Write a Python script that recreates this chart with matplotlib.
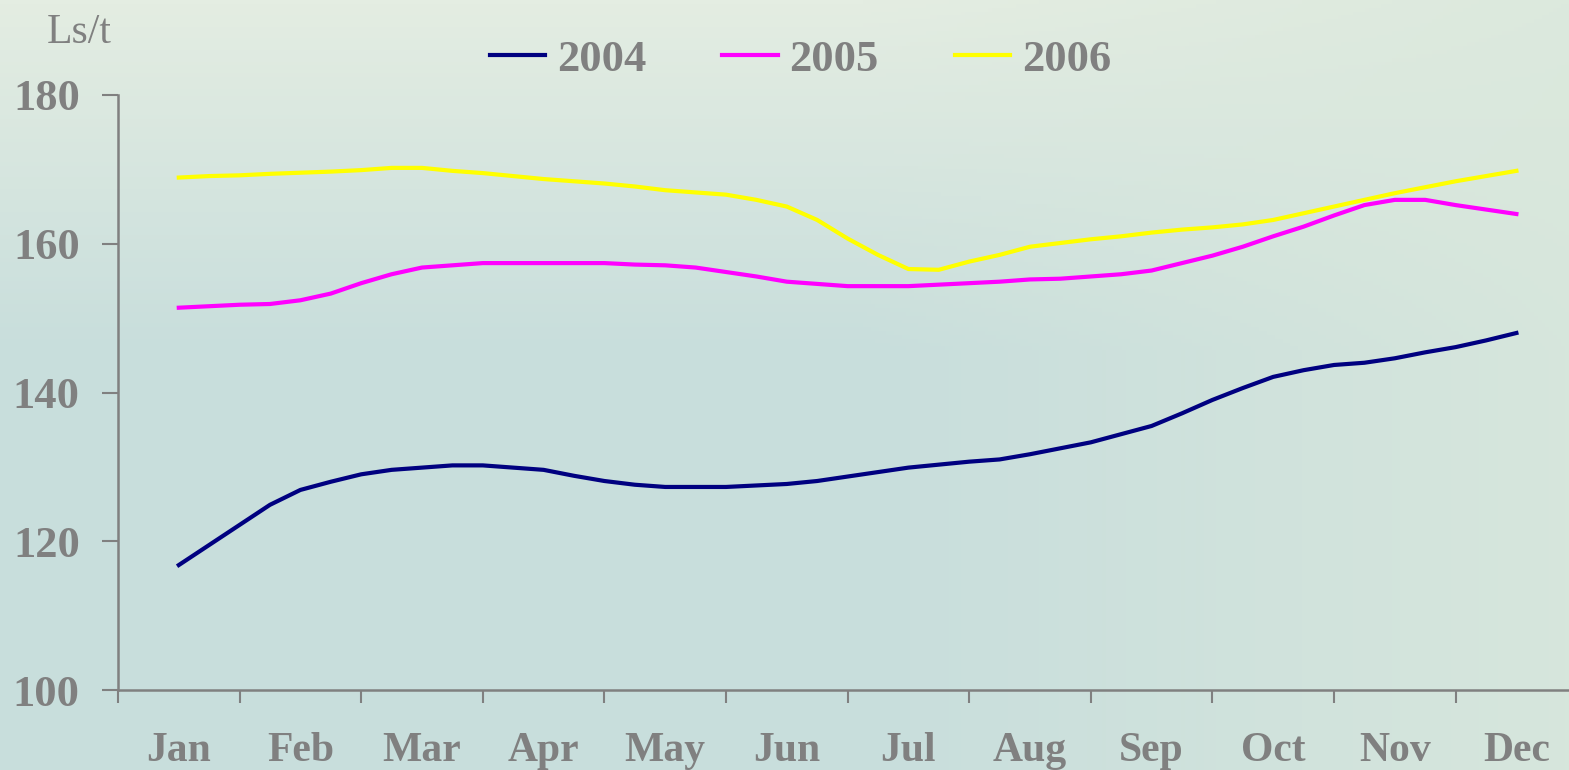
import numpy as np
import matplotlib
matplotlib.use('Agg')
import matplotlib.pyplot as plt

months = ['Jan', 'Feb', 'Mar', 'Apr', 'May', 'Jun',
          'Jul', 'Aug', 'Sep', 'Oct', 'Nov', 'Dec']

# weekly readings (4 per month, Jan to Dec)
price_2004 = [116.8, 119.5, 122.2, 124.9, 126.9, 128.0, 129.0, 129.6, 129.9,
              130.2, 130.2, 129.9, 129.6, 128.8, 128.1, 127.6, 127.3, 127.3,
              127.3, 127.5, 127.7, 128.1, 128.7, 129.3, 129.9, 130.3, 130.7,
              131.0, 131.7, 132.5, 133.3, 134.4, 135.5, 137.2, 139.0, 140.6,
              142.1, 143.0, 143.7, 144.0, 144.6, 145.4, 146.1, 147.0, 148.0]
price_2005 = [151.4, 151.6, 151.8, 151.9, 152.4, 153.3, 154.7, 155.9, 156.8,
              157.1, 157.4, 157.4, 157.4, 157.4, 157.4, 157.2, 157.1, 156.8,
              156.2, 155.6, 154.9, 154.6, 154.3, 154.3, 154.3, 154.5, 154.7,
              154.9, 155.2, 155.3, 155.6, 155.9, 156.4, 157.4, 158.4, 159.6,
              161.0, 162.3, 163.8, 165.2, 165.9, 165.9, 165.2, 164.6, 164.0]
price_2006 = [168.9, 169.1, 169.2, 169.4, 169.55, 169.7, 169.9, 170.2, 170.2,
              169.8, 169.5, 169.1, 168.7, 168.4, 168.1, 167.7, 167.2, 166.9,
              166.6, 165.9, 165.0, 163.2, 160.7, 158.5, 156.6, 156.5, 157.6,
              158.5, 159.6, 160.1, 160.6, 161.0, 161.5, 161.9, 162.2, 162.6,
              163.2, 164.1, 165.0, 165.9, 166.8, 167.6, 168.4, 169.1, 169.8]
years = ['2004', '2005', '2006']
colors = ['#000080', '#FF00FF', '#FFFF00']

grey = '#808080'
plt.rcParams['font.family'] = ['Liberation Serif', 'DejaVu Serif']

W, H = 1569, 770
fig = plt.figure(figsize=(W / 100, H / 100), dpi=100)

# soft textured-looking background
bg = fig.add_axes([0, 0, 1, 1], zorder=-10)
yy, xx = np.mgrid[0:1:200j, 0:1:400j]
top = np.array([228, 237, 226]) / 255
mid = np.array([200, 222, 220]) / 255
right = np.array([218, 232, 220]) / 255
t = np.clip(yy * 2.2, 0, 1)[..., None]
img = top * (1 - t) + mid * t
r = np.clip((xx - 0.55) / 0.45, 0, 1)[..., None] * 0.8
img = img * (1 - r) + right * r
bg.imshow(img, aspect='auto', extent=[0, 1, 0, 1])
bg.axis('off')

ax = fig.add_axes([118 / W, 80 / H, 12 * 121.6 / W, 595 / H])
ax.patch.set_alpha(0)

x = np.arange(len(price_2004)) / 4
for vals, name, c in zip([price_2004, price_2005, price_2006], years, colors):
    ax.plot(x, vals, color=c, lw=3, label=name, solid_joinstyle='round')

ax.set_xlim(-0.5, 11.5)
ax.set_ylim(100, 180)
ax.set_yticks([100, 120, 140, 160, 180])
ax.set_xticks(range(12))
ax.set_xticklabels(months)
ax.set_xticks(np.arange(-0.5, 12, 1), minor=True)

for s in ['top', 'right']:
    ax.spines[s].set_visible(False)
for s in ['left', 'bottom']:
    ax.spines[s].set_color(grey)
    ax.spines[s].set_linewidth(1.8)

ax.tick_params(axis='x', which='major', length=0, pad=30, labelsize=30,
               labelcolor=grey)
ax.tick_params(axis='x', which='minor', length=9.5, width=1.5, color=grey)
ax.tick_params(axis='y', length=11.5, width=1.5, color=grey, pad=16,
               labelsize=32, labelcolor=grey)
for lab in ax.get_xticklabels() + ax.get_yticklabels():
    lab.set_fontweight('bold')

fig.text(47 / W, 1 - 33 / H, 'Ls/t', color=grey, fontsize=30,
         ha='left', va='center')

fig.legend(loc='center left', bbox_to_anchor=(490 / W, 1 - 60 / H), ncol=3,
           frameon=False, borderaxespad=0, borderpad=0, handlelength=1.24,
           handletextpad=0.27, columnspacing=1.71,
           prop={'size': 32, 'weight': 'bold'}, labelcolor=grey)

fig.savefig('out.png', dpi=100)
